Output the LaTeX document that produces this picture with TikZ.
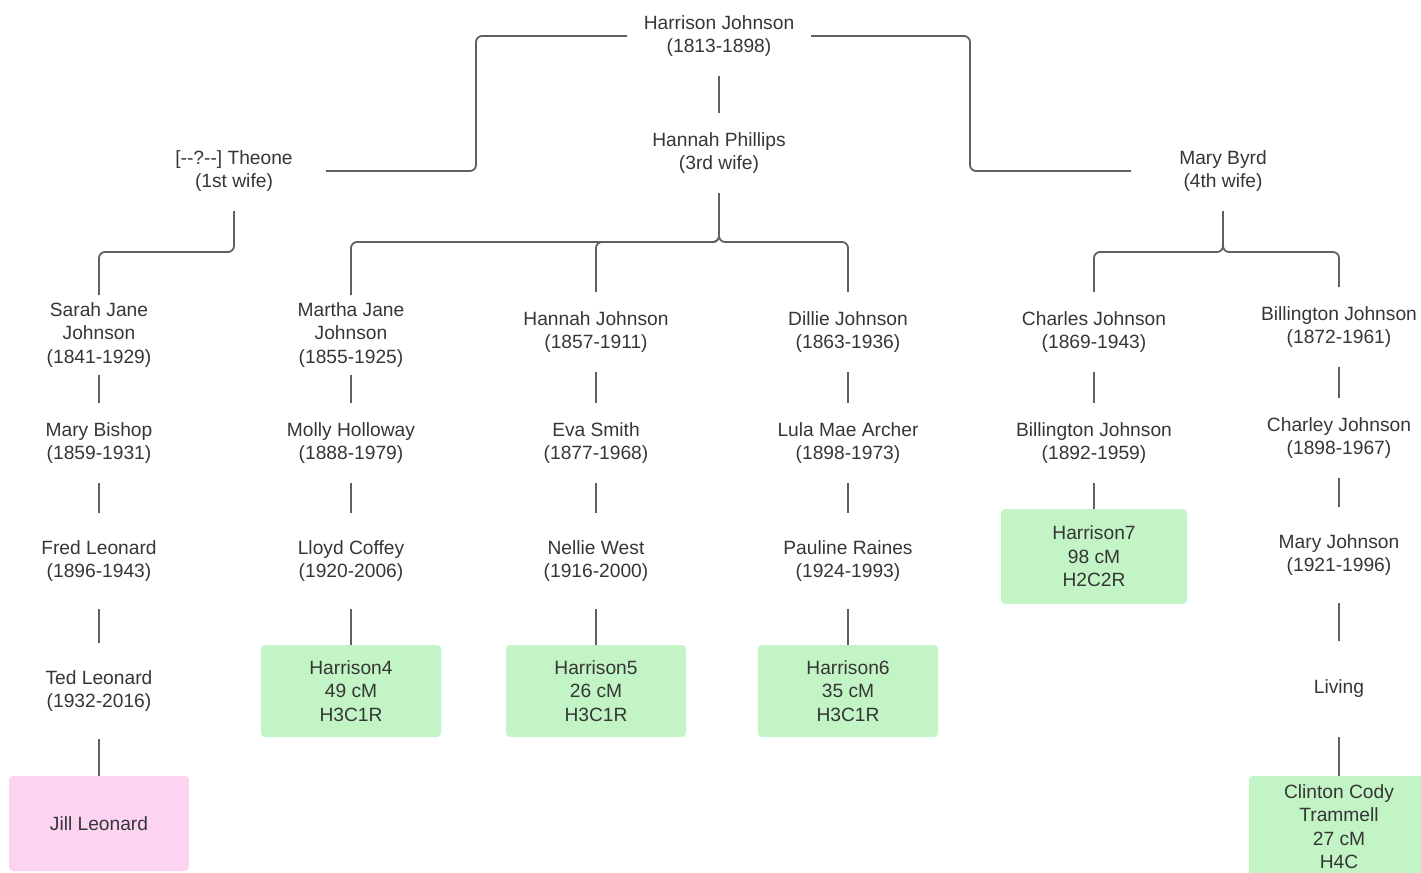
\documentclass[tikz,border=0pt]{standalone}
\usepackage{fontspec}
\setmainfont{Liberation Sans}

\definecolor{linegray}{HTML}{606060}
\definecolor{textgray}{HTML}{363636}
\definecolor{dnagreen}{HTML}{C2F4C5}
\definecolor{testpink}{HTML}{FCD4F2}

\tikzset{
  person/.style={align=center, text=textgray, minimum width=92pt, minimum height=40pt,
    inner sep=0pt, outer sep=0pt, font=\fontsize{9.6}{11.7}\selectfont},
  tall/.style={person, minimum height=48pt},
  match/.style={person, fill=dnagreen, rounded corners=2pt, minimum width=90pt, minimum height=46pt},
  tester/.style={match, fill=testpink, minimum height=47.5pt},
  link/.style={draw=linegray, line width=0.9pt, rounded corners=3pt},
}

\begin{document}
\begin{tikzpicture}[x=0.5pt, y=-0.5pt]
    \useasboundingbox (0,0) rectangle (1421,873);

    % top generation
    \node[person] (hj) at (719,36) {Harrison Johnson\\(1813-1898)};
    \node[person] (hp) at (719,153) {Hannah Phillips\\(3rd wife)};
    \node[person] (theone) at (234,171) {[-{}-?-{}-] Theone\\(1st wife)};
    \node[person] (byrd) at (1223,171) {Mary Byrd\\(4th wife)};

    % children
    \node[person] (sarah) at (99,335) {Sarah Jane\\Johnson\\(1841-1929)};
    \node[person] (martha) at (351,335) {Martha Jane\\Johnson\\(1855-1925)};
    \node[person] (hannahj) at (596,332) {Hannah Johnson\\(1857-1911)};
    \node[person] (dillie) at (848,332) {Dillie Johnson\\(1863-1936)};
    \node[person] (charles) at (1094,332) {Charles Johnson\\(1869-1943)};
    \node[person] (billington) at (1339,327) {Billington Johnson\\(1872-1961)};

    % grandchildren
    \node[person] (bishop) at (99,443) {Mary Bishop\\(1859-1931)};
    \node[person] (molly) at (351,443) {Molly Holloway\\(1888-1979)};
    \node[person] (eva) at (596,443) {Eva Smith\\(1877-1968)};
    \node[person] (lula) at (848,443) {Lula Mae Archer\\(1898-1973)};
    \node[person] (billj) at (1094,443) {Billington Johnson\\(1892-1959)};
    \node[person] (charley) at (1339,438) {Charley Johnson\\(1898-1967)};

    \node[tall] (fred) at (99,561) {Fred Leonard\\(1896-1943)};
    \node[tall] (lloyd) at (351,561) {Lloyd Coffey\\(1920-2006)};
    \node[tall] (nellie) at (596,561) {Nellie West\\(1916-2000)};
    \node[tall] (pauline) at (848,561) {Pauline Raines\\(1924-1993)};
    \node[match, minimum width=93pt, minimum height=47.5pt] (h7) at (1094,556.5) {Harrison7\\98 cM\\H2C2R};
    \node[tall] (maryj) at (1339,555) {Mary Johnson\\(1921-1996)};

    \node[tall] (ted) at (99,691) {Ted Leonard\\(1932-2016)};
    \node[match] (h4) at (351,691) {Harrison4\\49 cM\\H3C1R};
    \node[match] (h5) at (596,691) {Harrison5\\26 cM\\H3C1R};
    \node[match] (h6) at (848,691) {Harrison6\\35 cM\\H3C1R};
    \node[tall] (living) at (1339,689) {Living};

    \node[tester] (jill) at (99,823.5) {Jill Leonard};
    \node[match, minimum height=50.5pt] (clinton) at (1339,826.5) {Clinton Cody\\Trammell\\27 cM\\H4C};

    % marriages
    \draw[link] (hj) -- (hp);
    \draw[link] (hj.west) -- ++(-151,0) |- (theone.east);
    \draw[link] (hj.east) -- ++(159,0) |- (byrd.west);

    % families
    \draw[link] (theone.south) -- ++(0,41) -| (sarah.north);
    \foreach \kid in {martha,hannahj,dillie}
        \draw[link] (hp.south) -- ++(0,49) -| (\kid.north);
    \foreach \kid in {charles,billington}
        \draw[link] (byrd.south) -- ++(0,41) -| (\kid.north);

    % lines of descent
    \foreach \a/\b in {sarah/bishop, bishop/fred, fred/ted, ted/jill,
                       martha/molly, molly/lloyd, lloyd/h4,
                       hannahj/eva, eva/nellie, nellie/h5,
                       dillie/lula, lula/pauline, pauline/h6,
                       charles/billj, billj/h7,
                       billington/charley, charley/maryj, maryj/living, living/clinton}
        \draw[link] (\a) -- (\b);
\end{tikzpicture}
\end{document}
